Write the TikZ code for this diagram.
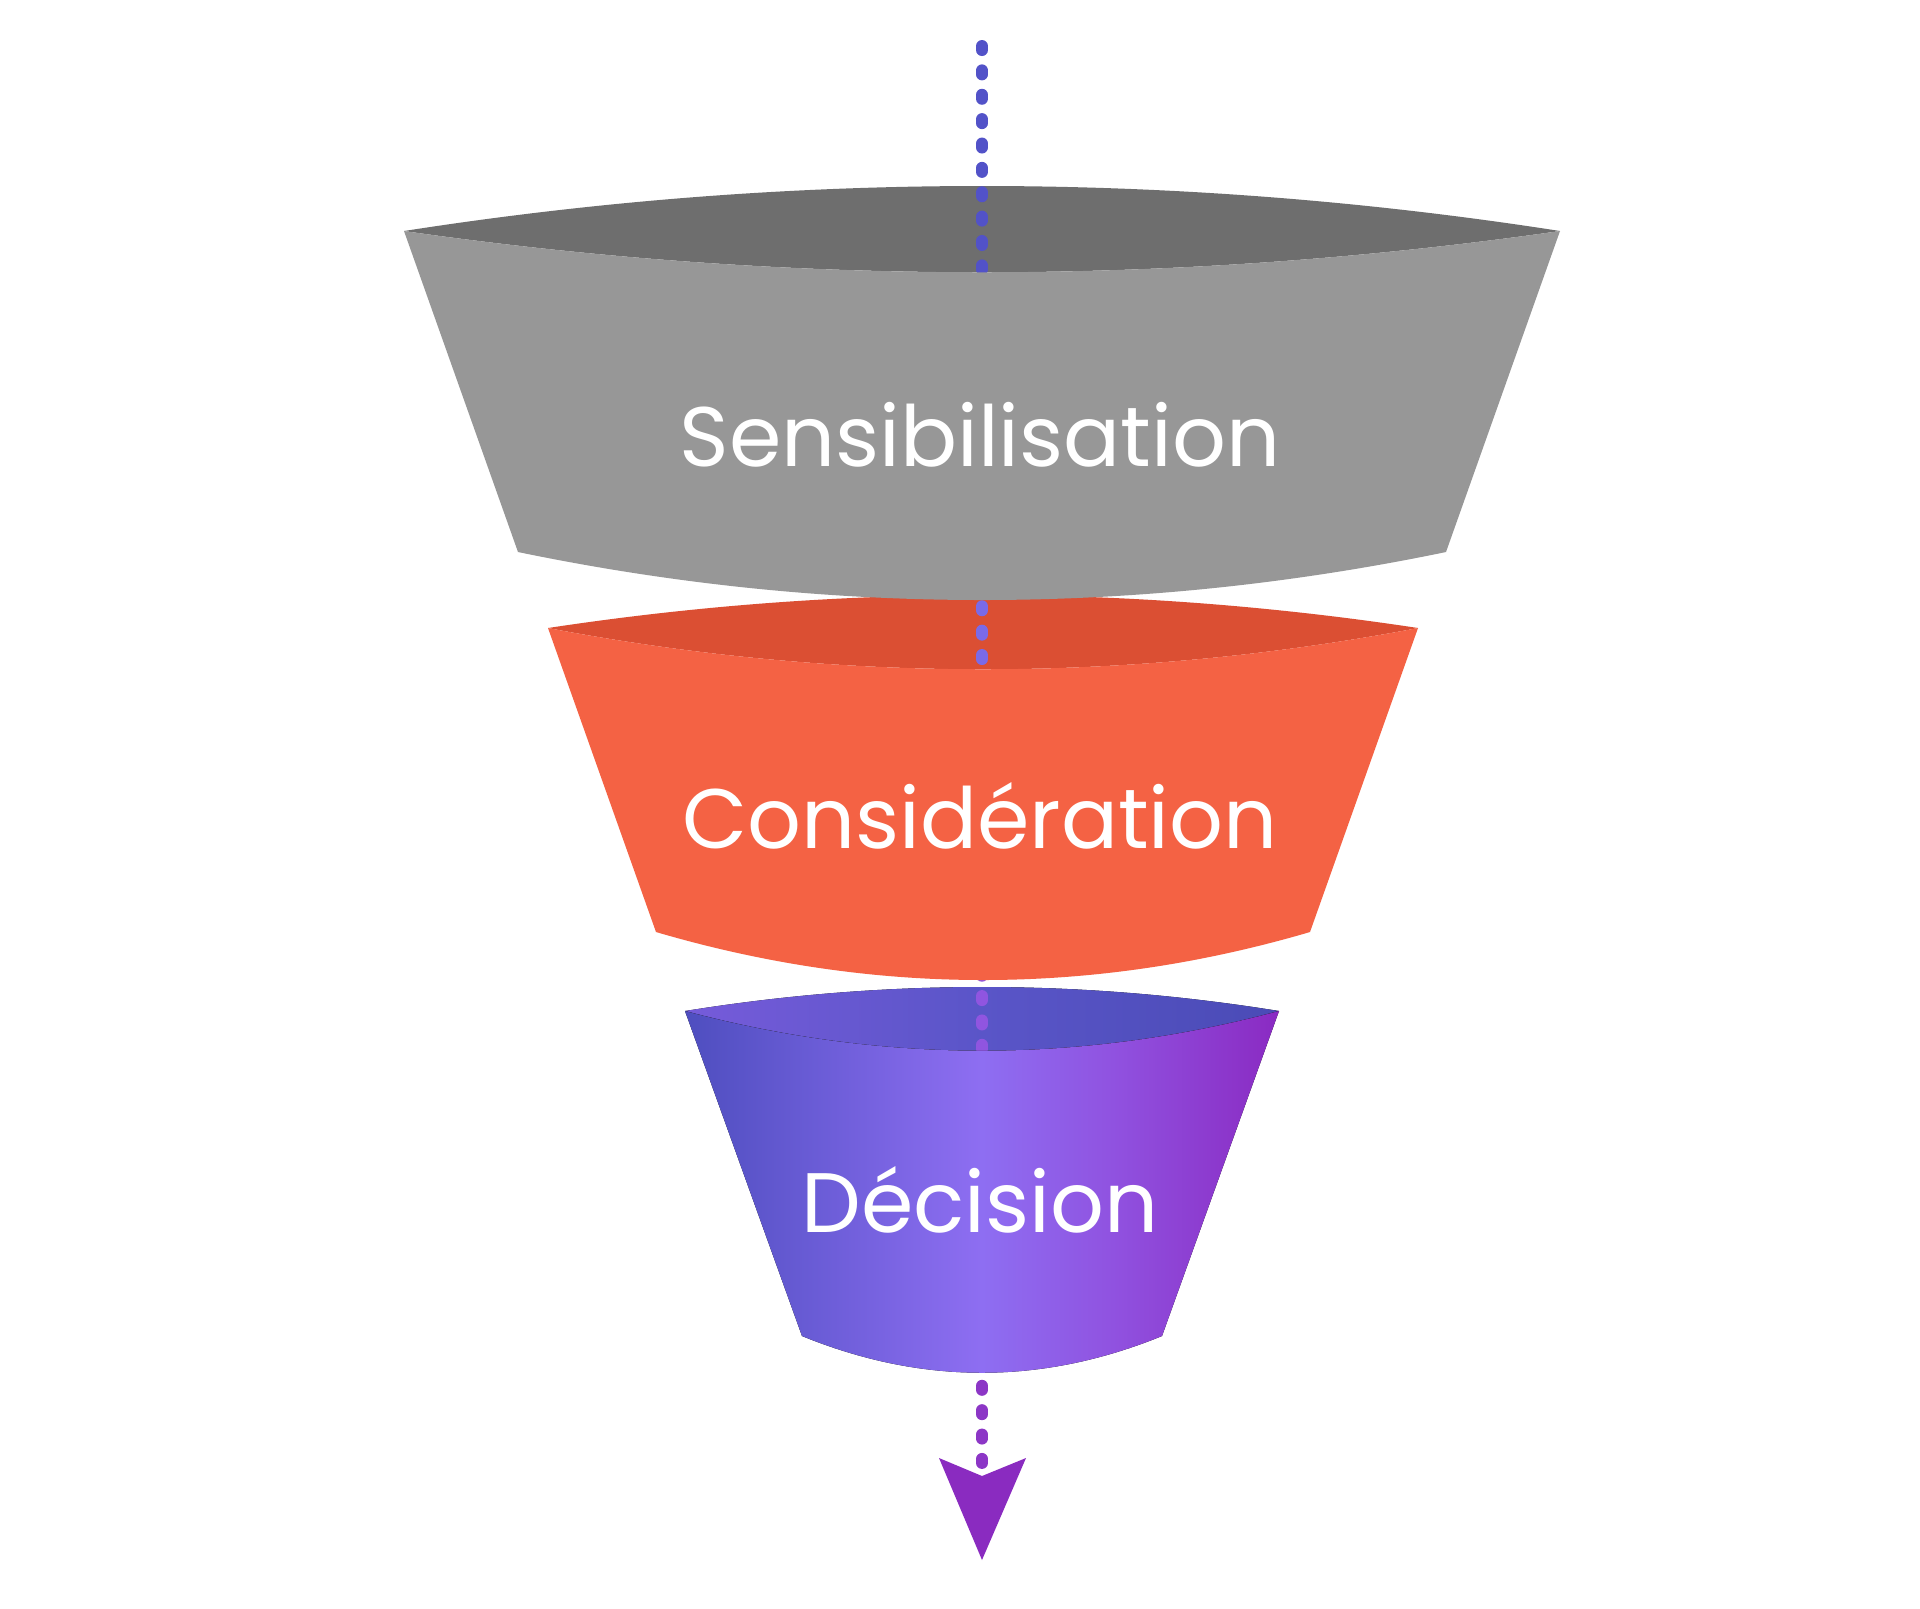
\documentclass[tikz,border=0pt]{standalone}
\usepackage{fontspec}
\setmainfont{Poppins}

\definecolor{grayfront}{HTML}{979797}
\definecolor{graytop}{HTML}{6E6E6E}
\definecolor{orangefront}{HTML}{F46244}
\definecolor{orangetop}{HTML}{DB4F33}
\definecolor{dotblue}{HTML}{5252C8}
\definecolor{dotlavender}{HTML}{7A6AE8}
\definecolor{dotviolet}{HTML}{9055E0}
\definecolor{dotpurple}{HTML}{8C36C6}
\definecolor{arrowpurple}{HTML}{8A2BC0}
\definecolor{decA}{HTML}{4E4EBF}
\definecolor{decB}{HTML}{6A5CD6}
\definecolor{decC}{HTML}{8E6EF2}
\definecolor{decD}{HTML}{9052E0}
\definecolor{decE}{HTML}{8A2AC2}
\definecolor{dectopA}{HTML}{765BDA}
\definecolor{dectopB}{HTML}{5A55C8}
\definecolor{dectopC}{HTML}{4A4BB6}

\pgfdeclarehorizontalshading{decisionfront}{100bp}{color(0bp)=(decA); color(25bp)=(decA); color(36bp)=(decB); color(50bp)=(decC); color(61bp)=(decD); color(75bp)=(decE); color(100bp)=(decE)}
\pgfdeclarehorizontalshading{decisiontop}{100bp}{color(0bp)=(dectopA); color(25bp)=(dectopA); color(50bp)=(dectopB); color(75bp)=(dectopC); color(100bp)=(dectopC)}

\tikzset{
  stagetext/.style={anchor=base, text=white, inner sep=0pt, font=\fontsize{24}{28}\selectfont},
  dotline/.style={line width=0.12cm, line cap=round, dash pattern=on 0.04cm off 0.2036cm}
}

\begin{document}
\begin{tikzpicture}[x=0.01cm,y=-0.01cm]
	\fill[white] (0,0) rectangle (1920,1608);
	\useasboundingbox (0,0) rectangle (1920,1608);

	% openings
	\fill[graytop] (404,231) .. controls (789,171) and (1175,171) .. (1560,231) .. controls (1175,286) and (789,286) .. (404,231) -- cycle;
	\fill[orangetop] (548,628) .. controls (838,584) and (1128,584) .. (1418,628) .. controls (1128,683) and (838,683) .. (548,628) -- cycle;
	\fill[shading=decisiontop] (685,1011) .. controls (883,979) and (1081,979) .. (1279,1011) .. controls (1081,1064) and (883,1064) .. (685,1011) -- cycle;

	% axis
	\coordinate (axisTop) at (982,46);
	\coordinate (axisA) at (982,580);
	\coordinate (axisB) at (982,581.9);
	\coordinate (axisC) at (982,970);
	\coordinate (axisD) at (982,971.7);
	\coordinate (axisE) at (982,1384);
	\coordinate (axisF) at (982,1385.8);
	\coordinate (axisEnd) at (982,1463);
	\draw[dotline, dotblue] (axisTop) -- (axisA);
	\draw[dotline, dotlavender] (axisB) -- (axisC);
	\draw[dotline, dotviolet] (axisD) -- (axisE);
	\draw[dotline, dotpurple] (axisF) -- (axisEnd);

	% bodies
	\fill[grayfront] (404,231) .. controls (789,286) and (1175,286) .. (1560,231) -- (1446,552) .. controls (1137,616) and (827,616) .. (518,552) -- cycle;
	\fill[orangefront] (548,628) .. controls (838,683) and (1128,683) .. (1418,628) -- (1310,932) .. controls (1092,996) and (874,996) .. (656,932) -- cycle;
	\fill[shading=decisionfront] (685,1011) .. controls (883,1064) and (1081,1064) .. (1279,1011) -- (1162,1336) .. controls (1042,1385) and (922,1385) .. (802,1336) -- cycle;

	% tip
	\fill[arrowpurple] (939,1458) -- (982,1476) -- (1026,1458) -- (982,1560) -- cycle;

	\node[stagetext] (sens) at (980,466) {Sensibilisation};
	\node[stagetext] (cons) at (980,848) {Considération};
	\node[stagetext] (deci) at (980,1232) {Décision};
\end{tikzpicture}
\end{document}
